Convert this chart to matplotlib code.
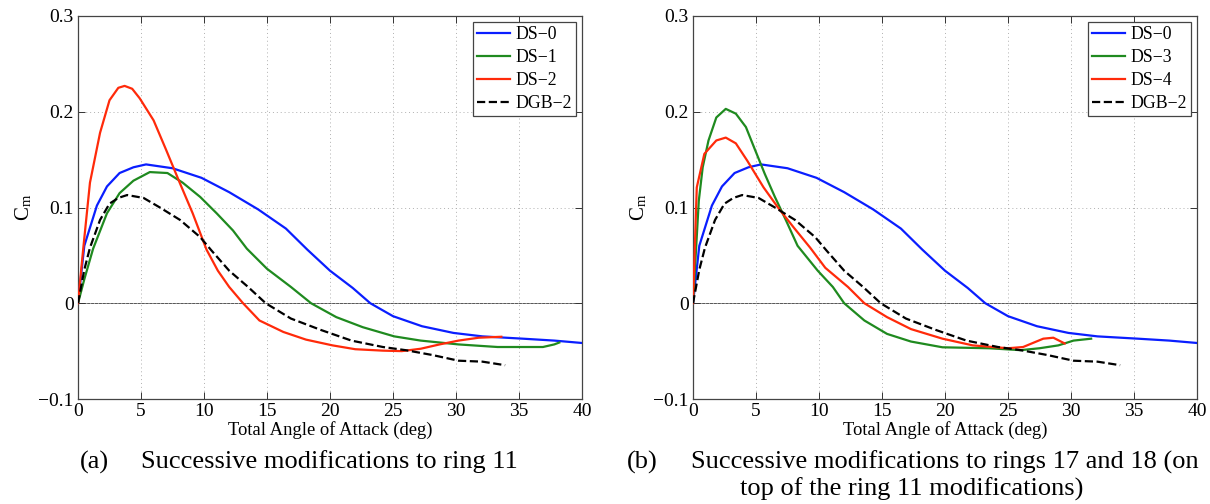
import matplotlib
matplotlib.use('Agg')
import matplotlib.pyplot as plt

plt.rcParams['font.family'] = ['Liberation Serif', 'DejaVu Serif']
plt.rcParams['mathtext.fontset'] = 'stix'

# DS-0 baseline (same in both panels)
ds0_aoa = [0, 0.5, 1.5, 2.3, 3.3, 4.4, 5.4, 7.5, 9.8, 12.0, 14.3, 16.5, 18.2, 20.0, 21.8, 23.2,
           25.0, 27.3, 29.8, 32.1, 35.3, 37.8, 40.0]
ds0_cm = [0, 0.06, 0.102, 0.122, 0.136, 0.142, 0.145, 0.141, 0.131, 0.116, 0.098, 0.078, 0.056,
          0.034, 0.016, 0.0, -0.0135, -0.024, -0.031, -0.0346, -0.037, -0.039, -0.0415]

# panel (a)
ds1_aoa = [0, 0.5, 1.2, 2.3, 3.3, 4.4, 5.7, 7.1, 8.3, 9.7, 11.0, 12.3, 13.4, 15.0, 16.9, 18.5,
           20.5, 22.6, 25.1, 27.2, 30.2, 33.3, 36.9, 37.8, 38.2]
ds1_cm = [0, 0.025, 0.057, 0.094, 0.115, 0.128, 0.137, 0.136, 0.126, 0.111, 0.094, 0.076, 0.057,
          0.036, 0.017, 0.0, -0.0145, -0.025, -0.0346, -0.039, -0.043, -0.0457, -0.0457, -0.043,
          -0.041]

ds2_aoa = [0, 0.4, 0.95, 1.75, 2.5, 3.2, 3.7, 4.3, 4.9, 6.0, 7.0, 8.1, 9.1, 10.2, 11.1, 12.0,
           13.1, 14.4, 16.3, 18.1, 20.2, 22.0, 24.2, 25.7, 27.2, 28.7, 30.2, 31.8, 33.6]
ds2_cm = [0, 0.055, 0.126, 0.178, 0.212, 0.225, 0.227, 0.224, 0.214, 0.191, 0.160, 0.125, 0.094,
          0.056, 0.034, 0.017, 0.0, -0.018, -0.030, -0.038, -0.044, -0.048, -0.0495, -0.050,
          -0.0475, -0.043, -0.039, -0.036, -0.035]

dgb2_aoa = [0, 0.5, 0.95, 1.75, 2.5, 3.2, 3.9, 5.2, 6.5, 8.1, 9.7, 10.6, 12.0, 13.5, 14.9,
            16.9, 19.3, 21.7, 24.2, 26.0, 28.1, 30.2, 32.1, 33.9]
dgb2_cm = [0, 0.035, 0.058, 0.087, 0.104, 0.110, 0.113, 0.110, 0.100, 0.087, 0.069, 0.055,
           0.034, 0.017, 0.0, -0.016, -0.028, -0.039, -0.0457, -0.049, -0.054, -0.060, -0.061,
           -0.0647]

# panel (b)
ds3_aoa = [0, 0.46, 0.77, 1.23, 1.85, 2.6, 3.4, 4.2, 4.9, 5.7, 6.5, 7.4, 8.3, 9.9, 11.1, 12.0,
           13.6, 15.4, 17.3, 19.8, 23.5, 26.0, 27.5, 29.0, 30.2, 31.6]
ds3_cm = [0, 0.107, 0.142, 0.170, 0.194, 0.203, 0.198, 0.184, 0.161, 0.135, 0.111, 0.086, 0.060,
          0.034, 0.017, 0.0, -0.018, -0.032, -0.040, -0.046, -0.047, -0.049, -0.047, -0.044,
          -0.039, -0.037]

ds4_aoa = [0, 0.3, 0.9, 1.85, 2.6, 3.4, 4.3, 5.6, 6.8, 8.0, 9.3, 10.5, 12.3, 13.6, 15.4, 17.3,
           19.8, 22.2, 25.0, 26.2, 27.8, 28.6, 29.5]
ds4_cm = [0, 0.121, 0.156, 0.170, 0.173, 0.167, 0.149, 0.121, 0.099, 0.079, 0.058, 0.037, 0.017,
          0.0, -0.0145, -0.027, -0.037, -0.044, -0.047, -0.0457, -0.037, -0.036, -0.042]

panels = [
    ('a', [('DS\u22120', ds0_aoa, ds0_cm), ('DS\u22121', ds1_aoa, ds1_cm),
           ('DS\u22122', ds2_aoa, ds2_cm), ('DGB\u22122', dgb2_aoa, dgb2_cm)]),
    ('b', [('DS\u22120', ds0_aoa, ds0_cm), ('DS\u22123', ds3_aoa, ds3_cm),
           ('DS\u22124', ds4_aoa, ds4_cm), ('DGB\u22122', dgb2_aoa, dgb2_cm)]),
]
colors = ['#0a1eff', '#1f8a1f', '#ff2a0a', 'black']
styles = ['-', '-', '-', '--']

xticks = [0, 5, 10, 15, 20, 25, 30, 35, 40]
yticks = [-0.1, 0, 0.1, 0.2, 0.3]
ytick_labels = ['\u22120.1', '0', '0.1', '0.2', '0.3']

fig = plt.figure(figsize=(12.1, 5.04), dpi=100)
lefts = [78 / 1210, 693 / 1210]

for left, (tag, series) in zip(lefts, panels):
    ax = fig.add_axes([left, 1 - 399 / 504, 504 / 1210, 383 / 504])
    ax.axhline(0, color='#555555', linewidth=0.7, zorder=1)
    for (name, xs, ys), c, ls in zip(series, colors, styles):
        ax.plot(xs, ys, color=c, linestyle=ls, linewidth=1.6, label=name, zorder=3)
    ax.set_xlim(0, 40)
    ax.set_ylim(-0.1, 0.3)
    ax.set_xticks(xticks)
    ax.set_yticks(yticks)
    ax.set_yticklabels(ytick_labels)
    ax.grid(True, linestyle=(0, (1, 3)), color='#b0b0b0', linewidth=0.7)
    ax.tick_params(direction='in', top=True, right=True, labelsize=14, length=5,
                   width=0.7, colors='#333333', labelcolor='black', pad=3)
    for sp in ax.spines.values():
        sp.set_color('#444444')
        sp.set_linewidth(0.9)
    ax.set_xlabel('Total Angle of Attack (deg)', fontsize=13.4, labelpad=1)
    ax.set_ylabel(r'C$_\mathregular{m}$', fontsize=15, labelpad=3)
    leg = ax.legend(loc='upper right', fontsize=12.8, handlelength=1.9, handletextpad=0.3,
                    labelspacing=0.35, borderpad=0.2, fancybox=False, framealpha=1,
                    borderaxespad=0.35)
    leg.get_frame().set_edgecolor('#444444')
    leg.get_frame().set_linewidth(0.9)

cap = 19
fig.text(80 / 1210, 1 - 462 / 504, '(a)', fontsize=cap, va='center')
fig.text(141 / 1210, 1 - 462 / 504, 'Successive modifications to ring 11', fontsize=cap, va='center')
fig.text(627 / 1210, 1 - 462 / 504, '(b)', fontsize=cap, va='center')
fig.text(691 / 1210, 1 - 462 / 504, 'Successive modifications to rings 17 and 18 (on',
         fontsize=cap, va='center')
fig.text(912 / 1210, 1 - 489 / 504, 'top of the ring 11 modifications)', fontsize=cap,
         va='center', ha='center')

fig.savefig('out.png', dpi=100)
